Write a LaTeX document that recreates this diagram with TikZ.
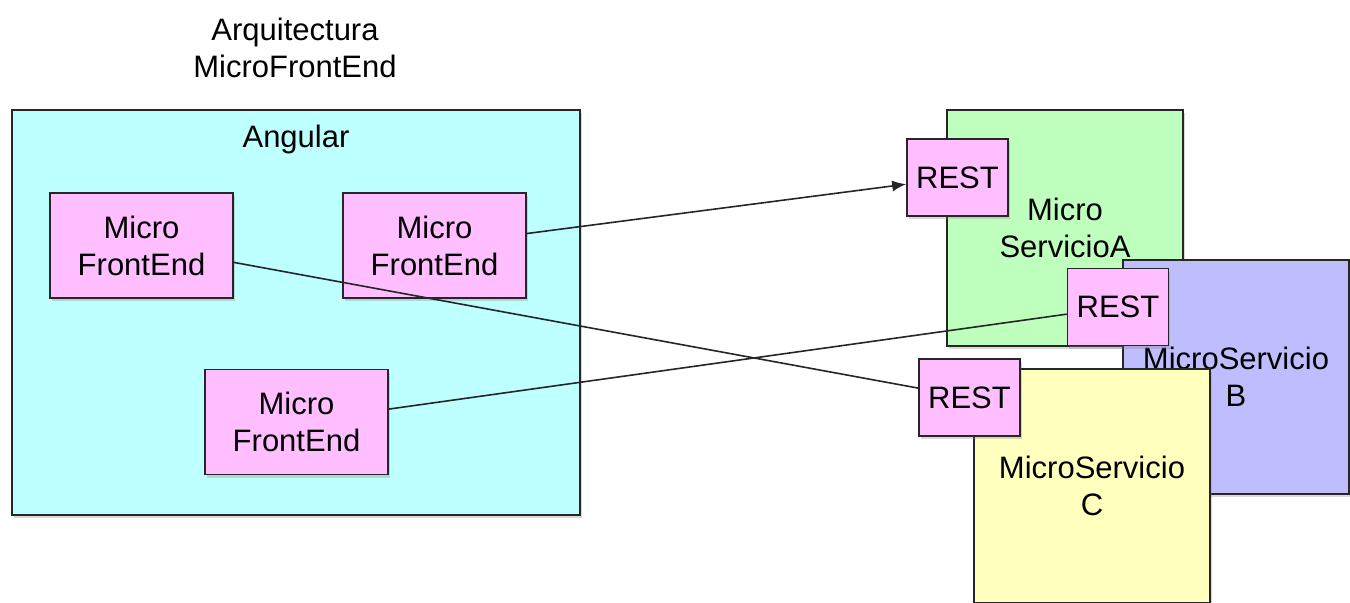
\documentclass[tikz,border=0pt]{standalone}
\usepackage{fontspec}
\setmainfont{Liberation Sans}
\usetikzlibrary{arrows.meta,shadows}
\definecolor{angcyan}{RGB}{190,255,255}
\definecolor{mfepink}{RGB}{255,190,255}
\definecolor{msgreen}{RGB}{190,255,190}
\definecolor{msblue}{RGB}{190,190,255}
\definecolor{msyellow}{RGB}{255,255,190}
\begin{document}
\begin{tikzpicture}[x=0.5pt, y=-0.5pt, every node/.style={font=\fontsize{15.5}{18.5}\selectfont}]
    \tikzstyle{box} = [rectangle, draw=black!85, line width=0.8pt, align=center, inner sep=2pt,
        drop shadow={shadow xshift=0.8pt, shadow yshift=-1.6pt, opacity=0.3}]
    \tikzstyle{frontend} = [box, fill=mfepink, minimum width=91.5pt, minimum height=52.5pt]
    \tikzstyle{service} = [box, minimum width=118pt, minimum height=118pt]
    \tikzstyle{rest} = [box, fill=mfepink, minimum width=50.5pt, minimum height=38.5pt]
    \tikzstyle{link} = [line width=0.8pt, draw=black!85]
    \tikzstyle{arrow} = [link, -{Latex[length=7pt,width=5.5pt]}]

    \useasboundingbox (0,0) rectangle (1350,602);

    \node [align=center] (title) at (295,48) {Arquitectura\\MicroFrontEnd};

    % contenedor angular
    \node [box, fill=angcyan, minimum width=284pt, minimum height=202.5pt] (angular) at (296,312.5) {};
    \node (angulartitle) at (296,139) {Angular};
    \node [frontend] (mfeone) at (141.5,245.5) {Micro\\FrontEnd};
    \node [frontend] (mfetwo) at (434.5,245.5) {Micro\\FrontEnd};
    \node [frontend] (mfethree) at (296.5,422) {Micro\\FrontEnd};

    % microservicios
    \node [service, fill=msgreen] (msa) at (1065,228) {Micro\\ServicioA};
    \node [rest] (resta) at (957.5,177.5) {REST};
    \node [service, fill=msblue, minimum width=113pt, minimum height=117pt] (msb) at (1236,377) {MicroServicio\\B};
    \node [rest] (restb) at (1118,307) {REST};
    \node [service, fill=msyellow, minimum height=117pt] (msc) at (1092,486) {MicroServicio\\C};
    \node [rest] (restc) at (969.5,397.5) {REST};

    \draw [arrow] (mfetwo) -- (resta);
    \draw [link] (mfeone) -- (restc);
    \draw [link] (mfethree) -- (restb);
\end{tikzpicture}
\end{document}
